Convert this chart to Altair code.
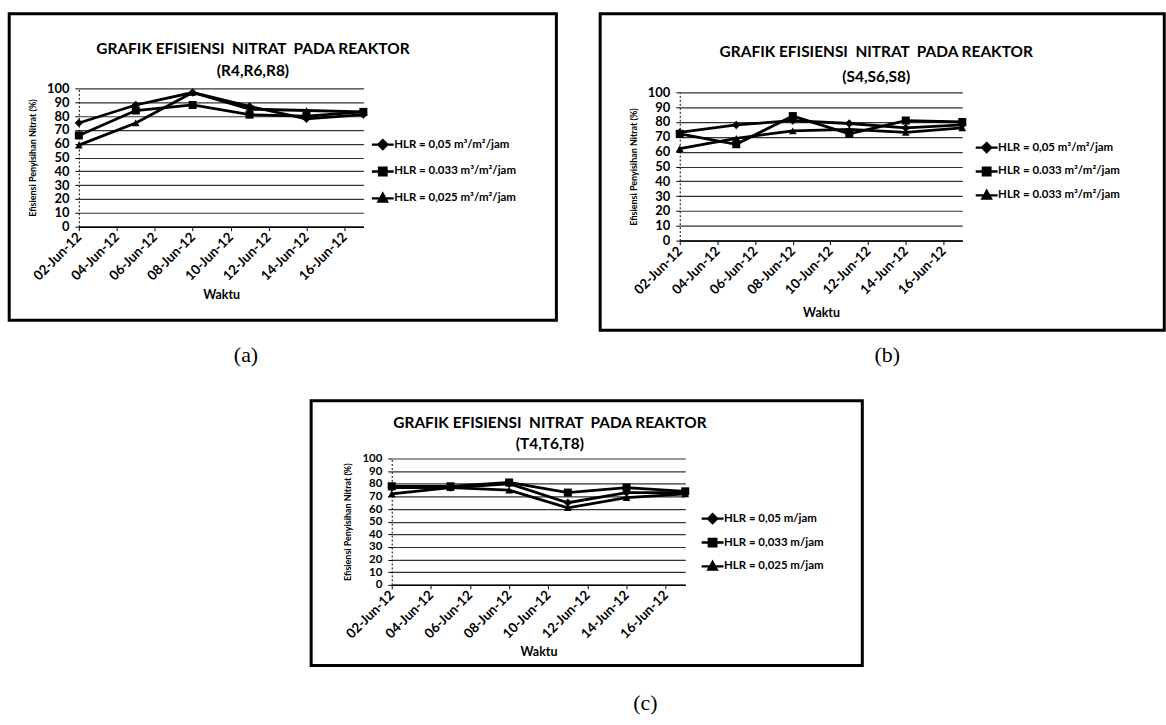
import json
import altair as alt
import pandas as pd

# ---------------- data ----------------
DATES = ["2012-06-02", "2012-06-05", "2012-06-08", "2012-06-11", "2012-06-14", "2012-06-17"]
TICK_DATES = ["2012-06-02", "2012-06-04", "2012-06-06", "2012-06-08",
              "2012-06-10", "2012-06-12", "2012-06-14", "2012-06-16"]
X_DOMAIN = ["2012-06-02", "2012-06-17"]
Y_TICKS = [0, 10, 20, 30, 40, 50, 60, 70, 80, 90, 100]

MAIN_TITLE = "GRAFIK EFISIENSI \u00a0NITRAT \u00a0PADA REAKTOR"
Y_TITLE = "Efisiensi Penyisihan Nitrat (%)"
X_TITLE = "Waktu"

# (a) reactors R4, R6, R8
A_SUBTITLE = "(R4,R6,R8)"
A_HLR_005 = [75, 88, 97, 87, 78, 81]
A_HLR_0033 = [66, 84, 88, 81, 80, 83]
A_HLR_0025 = [59, 75, 97, 85, 84, 83]
A_LABELS = ["HLR = 0,05 m³/m²/jam", "HLR = 0.033 m³/m²/jam", "HLR = 0,025 m³/m²/jam"]

# (b) reactors S4, S6, S8
B_SUBTITLE = "(S4,S6,S8)"
B_HLR_005 = [73, 78, 81, 79, 76, 78]
B_HLR_0033 = [72, 65, 84, 72, 81, 80]
B_HLR_0033_2 = [62, 69, 74, 75, 73, 76]
B_LABELS = ["HLR = 0,05 m³/m²/jam", "HLR = 0.033 m³/m²/jam", "HLR = 0.033 m³/m²/jam"]

# (c) reactors T4, T6, T8
C_SUBTITLE = "(T4,T6,T8)"
C_HLR_005 = [77, 77, 80, 65, 73, 73]
C_HLR_0033 = [78, 78, 81, 73, 77, 74]
C_HLR_0025 = [72, 77, 75, 61, 69, 72]
C_LABELS = ["HLR = 0,05 m/jam", "HLR = 0,033 m/jam", "HLR = 0,025 m/jam"]

CAPTIONS = ["(a)", "(b)", "(c)"]

# ---------------- styling ----------------
MARKERS = ["diamond", "square", "triangle-up"]
MARKER_SIZES = [70, 65, 60]
LEGEND_PATHS = [
    "M-2.2,0H2.2M0,-0.9L0.9,0L0,0.9L-0.9,0ZM0,-0.45L0.45,0L0,0.45L-0.45,0Z",
    "M-2.2,0H2.2M-0.75,-0.75H0.75V0.75H-0.75ZM-0.35,-0.35H0.35V0.35H-0.35Z",
    "M-2.2,0H2.2M0,-0.9L0.85,0.65H-0.85ZM0,-0.4L0.4,0.35H-0.4Z",
]
FONT = "Lato"


def ms(d):
    return int(pd.Timestamp(d, tz="UTC").value // 10**6)


def panel(series, labels, subtitle, W, H, xr, yr, leg_x, leg_y, row_pad,
          title_dx, title_offset, sub_pad, ylab_size, xtitle_pad):
    rows = []
    for i, vals in enumerate(series):
        for d, v in zip(DATES, vals):
            rows.append({"date": ms(d), "value": v, "series": str(i)})
    df = pd.DataFrame(rows)

    x = alt.X(
        "date:T",
        scale=alt.Scale(type="utc", domain=[ms(X_DOMAIN[0]), ms(X_DOMAIN[1])],
                        range=list(xr), nice=False),
        axis=alt.Axis(
            values=[ms(d) for d in TICK_DATES],
            labelExpr="utcFormat(datum.value, '%d-%b-%y')",
            labelAngle=315, labelAlign="right", labelBaseline="middle",
            labelFontSize=13.5, labelPadding=4, labelOverlap=False, tickSize=4,
            grid=False, offset=-(H - yr[0]), title=X_TITLE, titleFontSize=12.5,
            titlePadding=xtitle_pad, domainWidth=1.5,
        ),
    )
    y = alt.Y(
        "value:Q",
        scale=alt.Scale(domain=[0, 100], range=list(yr), nice=False, zero=False),
        axis=alt.Axis(
            values=Y_TICKS, offset=-xr[0], labelFontSize=ylab_size, labelPadding=6,
            labelOverlap=False, tickSize=4, grid=True, title=Y_TITLE,
            titleFontSize=9, titlePadding=9, domainWidth=1, domainDash=[2, 2],
        ),
    )
    base = alt.Chart(df).encode(x=x, y=y)
    line = base.mark_line(color="black", strokeWidth=2.8).encode(detail="series:N")
    pts = [
        base.mark_point(shape=m, filled=True, color="black", size=s, opacity=1)
        .transform_filter(alt.datum.series == str(i))
        for i, (m, s) in enumerate(zip(MARKERS, MARKER_SIZES))
    ]
    label_expr = json.dumps(labels, ensure_ascii=False) + "[toNumber(datum.value)]"
    legend_layer = base.mark_point(filled=False, color="black", strokeWidth=2.4, opacity=1).encode(
        shape=alt.Shape(
            "series:N",
            scale=alt.Scale(domain=["0", "1", "2"], range=LEGEND_PATHS),
            legend=alt.Legend(
                orient="none", legendX=leg_x, legendY=leg_y, title=None,
                labelExpr=label_expr, symbolSize=100,
                symbolStrokeColor="black", symbolStrokeWidth=2.4, symbolOpacity=1,
                labelFont=FONT, labelFontSize=11.5, labelFontWeight="bold",
                labelColor="black", labelOffset=5, rowPadding=row_pad, padding=0,
            ),
        )
    ).transform_filter("false")
    return alt.layer(line, *pts, legend_layer).properties(
        width=W, height=H,
        title=alt.Title(
            MAIN_TITLE, subtitle=subtitle, anchor="middle", frame="group",
            offset=title_offset, dx=title_dx, font=FONT, fontSize=15.5,
            fontWeight="bold", color="black", subtitleFont=FONT,
            subtitleFontSize=15.5, subtitleFontWeight="bold", subtitleColor="black",
            subtitlePadding=sub_pad,
        ),
    )


def caption(chart, text, offset, dx):
    return alt.vconcat(
        chart,
        title=alt.Title(text, orient="bottom", anchor="middle", font="Liberation Serif",
                        fontSize=22, fontWeight="normal", color="black",
                        offset=offset, dx=dx),
    )


pa = panel([A_HLR_005, A_HLR_0033, A_HLR_0025], A_LABELS, A_SUBTITLE,
           W=550, H=308, xr=(70, 356), yr=(214, 75), leg_x=369, leg_y=125,
           row_pad=8, title_dx=-30, title_offset=-66, sub_pad=7, ylab_size=13,
           xtitle_pad=6)
pb = panel([B_HLR_005, B_HLR_0033, B_HLR_0033_2], B_LABELS, B_SUBTITLE,
           W=567, H=318, xr=(80, 364), yr=(228, 79), leg_x=382, leg_y=128,
           row_pad=5, title_dx=-6, title_offset=-72, sub_pad=10, ylab_size=13,
           xtitle_pad=10)
pc = panel([C_HLR_005, C_HLR_0033, C_HLR_0025], C_LABELS, C_SUBTITLE,
           W=554, H=266, xr=(81, 376), yr=(185, 58), leg_x=397, leg_y=112,
           row_pad=5, title_dx=-37, title_offset=-52, sub_pad=6, ylab_size=11.5,
           xtitle_pad=5)

wa = caption(pa, CAPTIONS[0], 24, -37)
wb = caption(pb, CAPTIONS[1], 14, 5)
wc = caption(pc, CAPTIONS[2], 26, 59)

top = alt.hconcat(wa, wb, spacing=40).resolve_scale(shape="independent").resolve_legend(shape="independent")

chart = (
    alt.vconcat(top, wc, spacing=32, center=True)
    .resolve_scale(shape="independent")
    .resolve_legend(shape="independent")
    .properties(padding={"left": 7, "top": 10, "right": 0, "bottom": 0}, background="white")
    .configure_view(stroke="black", strokeWidth=3)
    .configure_axis(
        labelFont=FONT, labelFontWeight="bold", labelColor="black",
        titleFont=FONT, titleFontWeight="bold", titleColor="black",
        domainColor="black", tickColor="black", gridColor="#333333", gridWidth=1.2,
    )
)

chart.save("out.html", embed_options={"renderer": "svg", "actions": False})
